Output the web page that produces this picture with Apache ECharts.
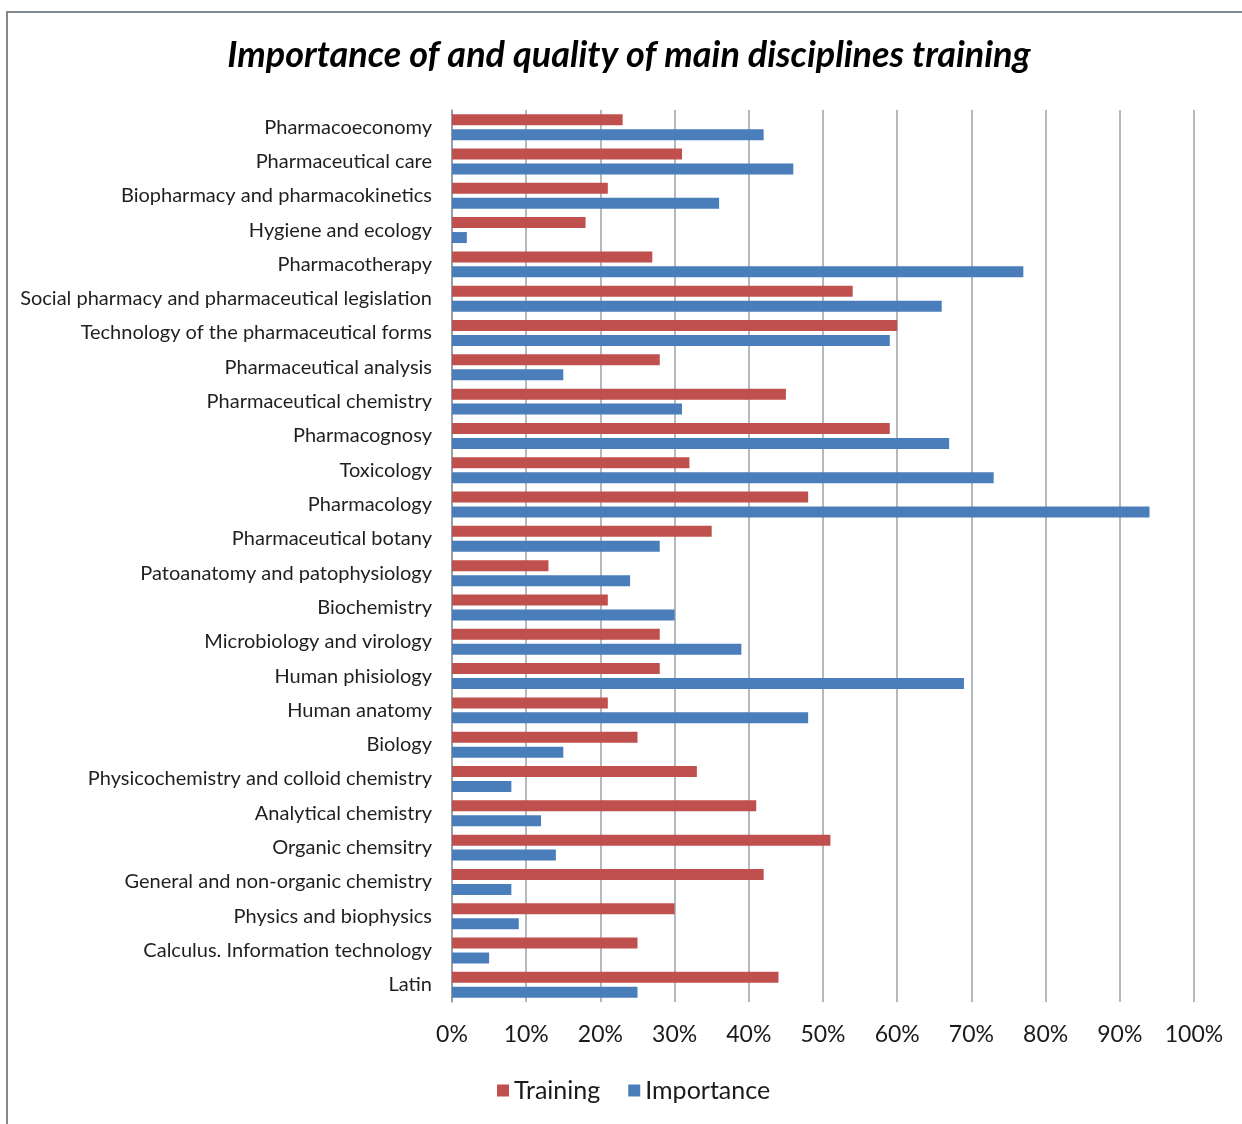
<!DOCTYPE html>
<html lang="en">

<head>
    <meta charset="UTF-8">
    <title>Importance of and quality of main disciplines training</title>
    <script src="https://cdn.jsdelivr.net/npm/echarts@6/dist/echarts.min.js"></script>
    <style>
        html, body { margin: 0; padding: 0; background: #fff; }
        #chart_show { position: absolute; left: 0; top: 0; width: 1242px; height: 1124px; }
        /* gray frame of the original chart (top and left edges only visible) */
        #frame {
            position: absolute; left: 6px; top: 11px; width: 1260px; height: 1140px;
            border-top: 2px solid #80878d; border-left: 2px solid #80878d;
            pointer-events: none;
        }
    </style>
</head>

<body>
    <div id="chart_show"></div>
    <div id="frame"></div>

    <script>
        // disciplines, top to bottom as in the picture
        var disciplines = [
            'Pharmacoeconomy',
            'Pharmaceutical care',
            'Biopharmacy and pharmacokinetics',
            'Hygiene and ecology',
            'Pharmacotherapy',
            'Social pharmacy and pharmaceutical legislation',
            'Technology of the pharmaceutical forms',
            'Pharmaceutical analysis',
            'Pharmaceutical chemistry',
            'Pharmacognosy',
            'Toxicology',
            'Pharmacology',
            'Pharmaceutical botany',
            'Patoanatomy and patophysiology',
            'Biochemistry',
            'Microbiology and virology',
            'Human phisiology',
            'Human anatomy',
            'Biology',
            'Physicochemistry and colloid chemistry',
            'Analytical chemistry',
            'Organic chemsitry',
            'General and non-organic chemistry',
            'Physics and biophysics',
            'Calculus. Information technology',
            'Latin'
        ];

        // percent values
        var training = [23, 31, 21, 18, 27, 54, 60, 28, 45, 59, 32, 48, 35, 13, 21, 28, 28, 21, 25, 33, 41, 51, 42, 30, 25, 44];
        var importance = [42, 46, 36, 2, 77, 66, 59, 15, 31, 67, 73, 94, 28, 24, 30, 39, 69, 48, 15, 8, 12, 14, 8, 9, 5, 25];

        var seriesNames = ['Training', 'Importance'];
        var colors = ['#c0504d', '#4a7ebb'];

        var myChart = echarts.init(document.getElementById('chart_show'));

        var option = {
            backgroundColor: 'transparent',
            animation: false,
            title: {
                text: 'Importance of and quality of main disciplines training',
                left: 624,
                top: 32,
                textAlign: 'center',
                textStyle: {
                    fontFamily: 'Lato',
                    fontSize: 36,
                    fontWeight: 'bold',
                    fontStyle: 'italic',
                    color: '#000'
                }
            },
            legend: {
                data: seriesNames,
                left: 492,
                top: 1073,
                itemWidth: 12,
                itemHeight: 12,
                itemGap: 28,
                icon: 'rect',
                textStyle: {
                    fontFamily: 'Lato',
                    fontSize: 25,
                    color: '#1a1a1a'
                }
            },
            grid: {
                left: 452,
                right: 48,
                top: 110,
                bottom: 122,
                containLabel: false
            },
            xAxis: {
                type: 'value',
                min: 0,
                max: 100,
                interval: 10,
                axisLine: { show: false },
                axisTick: { show: false },
                axisLabel: {
                    formatter: '{value}%',
                    margin: 21,
                    fontFamily: 'Lato',
                    fontSize: 23,
                    color: '#1a1a1a'
                },
                splitLine: {
                    show: true,
                    lineStyle: { color: '#9aa3aa', width: 1.5 }
                }
            },
            yAxis: {
                type: 'category',
                inverse: true,
                data: disciplines,
                axisLine: { show: true, lineStyle: { color: '#8e979e', width: 1.5 } },
                axisTick: { show: false },
                axisLabel: {
                    margin: 20,
                    fontFamily: 'Lato',
                    fontSize: 20,
                    color: '#1f1f1f'
                }
            },
            series: [{
                    name: seriesNames[0],
                    type: 'bar',
                    barWidth: 11,
                    barGap: '36%',
                    itemStyle: { color: colors[0] },
                    data: training
                },
                {
                    name: seriesNames[1],
                    type: 'bar',
                    barWidth: 11,
                    barGap: '36%',
                    itemStyle: { color: colors[1] },
                    data: importance
                }
            ]
        };

        myChart.setOption(option);
    </script>
</body>

</html>
